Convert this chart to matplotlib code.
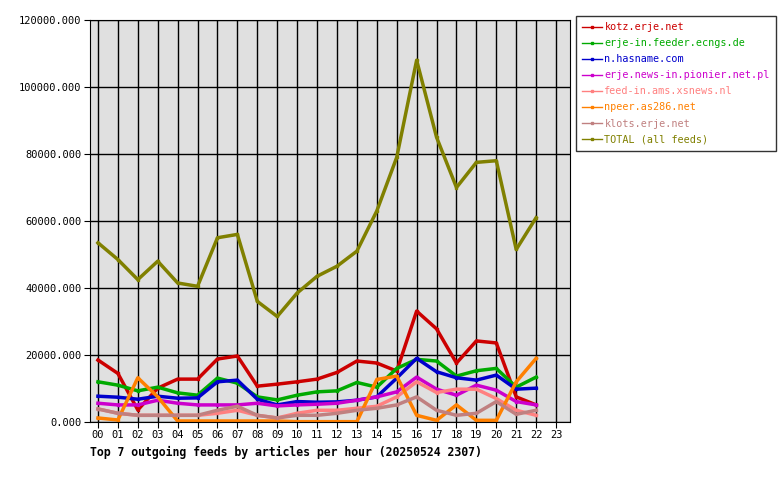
import matplotlib
matplotlib.use("Agg")
import matplotlib.pyplot as plt

hours = list(range(23))
xlabels = ["%02d" % h for h in range(24)]
names = ["kotz.erje.net", "erje-in.feeder.ecngs.de", "n.hasname.com",
         "erje.news-in.pionier.net.pl", "feed-in.ams.xsnews.nl",
         "npeer.as286.net", "klots.erje.net", "TOTAL (all feeds)"]
kotz = [18500, 14500, 3600, 10100, 12800, 12800, 18800, 19700, 10700, 11300, 12000, 12800, 14800, 18200, 17600, 15200, 33100, 27800, 17600, 24200, 23600, 7500, 5100]
ecngs = [12000, 11000, 9300, 10400, 8700, 8000, 13100, 11600, 7500, 6600, 8000, 9000, 9300, 11800, 10400, 16000, 18700, 18200, 13700, 15300, 16000, 10400, 13400]
hasname = [7700, 7400, 6800, 7700, 7100, 7200, 12000, 12500, 6800, 5100, 6100, 5900, 6000, 6500, 7500, 13100, 19000, 15000, 13200, 12500, 14000, 9800, 10100]
pionier = [5600, 5100, 5100, 6500, 5600, 5100, 5100, 5100, 5600, 4800, 5100, 5300, 5600, 6500, 7500, 9000, 13400, 9800, 8000, 11000, 9500, 6100, 5100]
xsnews = [3900, 2600, 2000, 2000, 2000, 2000, 2600, 3500, 2000, 1200, 2600, 3500, 3500, 4100, 4700, 7500, 12000, 8800, 9800, 9800, 7000, 3500, 2000]
as286 = [1200, 600, 13200, 7500, 300, 300, 300, 300, 300, 300, 100, 100, 100, 100, 12700, 13700, 2000, 500, 5100, 500, 500, 12000, 19000]
klots = [3900, 2600, 2000, 2000, 2000, 2000, 3500, 4700, 2000, 1200, 2000, 2000, 2600, 3500, 4100, 5100, 7500, 3500, 2000, 2600, 6100, 2300, 3500]
total = [53500, 48500, 42500, 48000, 41500, 40500, 55000, 56000, 36000, 31500, 38500, 43500, 46500, 51000, 63000, 79000, 108000, 85000, 70000, 77500, 78000, 51500, 61000]
series = [kotz, ecngs, hasname, pionier, xsnews, as286, klots, total]
colors = ["#cc0000", "#00aa00", "#0000cc", "#cc00cc", "#ff8080", "#ff8000", "#c08080", "#808000"]

plt.rcParams["font.family"] = "DejaVu Sans Mono"
fig = plt.figure(figsize=(7.8, 4.8), dpi=100)
ax = fig.add_axes([90/780, 1-422/480, 480/780, 402/480])
ax.set_facecolor("#e0e0e0")
for s, c, n in zip(series, colors, names):
    ax.plot(hours, s, color=c, lw=2.5, label=n, marker="s", markersize=1.5)
ax.set_xlim(-0.4, 23.7)
ax.set_ylim(0, 120000)
ax.set_xticks(range(24))
ax.set_xticklabels(xlabels, fontsize=7.5)
ax.set_yticks(range(0, 120001, 20000))
ax.set_yticklabels(["%d.000" % v for v in range(0, 120001, 20000)], fontsize=7.5)
ax.grid(True, color="black", lw=1)
ax.tick_params(length=4, pad=2)
for sp in ax.spines.values():
    sp.set_color("black")
ax.text(0, -0.075, "Top 7 outgoing feeds by articles per hour (20250524 2307)",
        transform=ax.transAxes, fontsize=8.3, fontweight="bold", va="center")
leg = fig.legend(loc="upper left", bbox_to_anchor=(576/780, 1-16/480), fontsize=7.3,
                 frameon=True, fancybox=False, edgecolor="black", handlelength=2,
                 handletextpad=0.2, labelspacing=0.6, borderpad=0.6, borderaxespad=0)
for t, c in zip(leg.get_texts(), colors):
    t.set_color(c)
for l in leg.get_lines():
    l.set_linewidth(1)
fig.savefig("out.png", dpi=100)
